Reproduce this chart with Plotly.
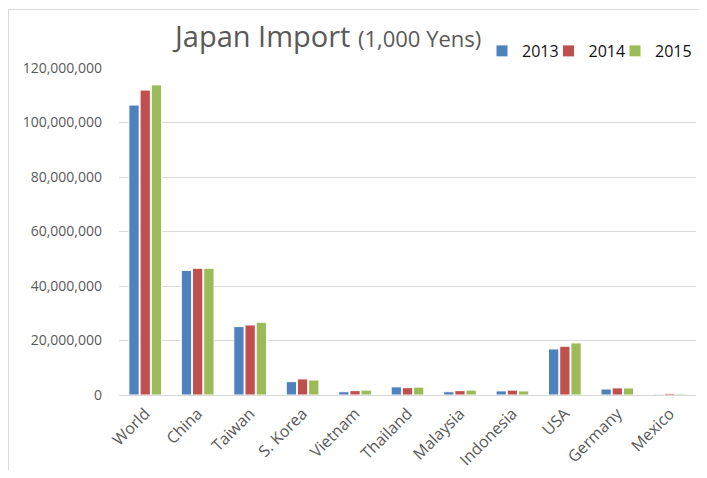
import plotly.graph_objects as go

categories = ["World", "China", "Taiwan", "S. Korea", "Vietnam", "Thailand",
              "Malaysia", "Indonesia", "USA", "Germany", "Mexico"]
years = ["2013", "2014", "2015"]
v2013 = [106400000, 45700000, 25100000, 4900000, 1200000, 3000000, 1200000, 1500000, 16900000, 2200000, 300000]
v2014 = [111900000, 46500000, 25700000, 5900000, 1600000, 2700000, 1600000, 1800000, 17900000, 2600000, 600000]
v2015 = [113800000, 46500000, 26700000, 5500000, 1800000, 2900000, 1800000, 1500000, 19100000, 2600000, 400000]
colors = ["#4F81BD", "#C0504D", "#9BBB59"]
tickvals = [0, 20000000, 40000000, 60000000, 80000000, 100000000, 120000000]
ticktext = ["0", "20,000,000", "40,000,000", "60,000,000", "80,000,000", "100,000,000", "120,000,000"]

FONT = "Open Sans"
GRAY = "#595959"

# page has an 8px body margin; figure sized to fit the window
W, H = 691, 462
L, T = 111, 60
PR, PB = 688, 387          # plot right / bottom in figure pixels
R, B = W - PR, H - PB
pw, ph = PR - L, PB - T

def px_x(x):
    return (x - L) / pw

def px_y(y):
    return (PB - y) / ph

legend_names = ["legend", "legend2", "legend3"]
legend_left = [474, 540.5, 607]

fig = go.Figure()
for name, vals, c, lg in zip(years, [v2013, v2014, v2015], colors, legend_names):
    fig.add_trace(go.Bar(x=categories, y=vals, name=name, legend=lg, showlegend=True,
                         marker=dict(color=c, line=dict(color="white", width=1))))

legend_layout = {}
for lg, lx in zip(legend_names, legend_left):
    legend_layout[lg] = dict(orientation="h", x=px_x(lx), xanchor="left",
                             y=px_y(43), yanchor="middle",
                             font=dict(family=FONT, size=16, color="#111111"),
                             itemwidth=30, bgcolor="rgba(0,0,0,0)", visible=True)

fig.update_layout(
    width=W, height=H, showlegend=True,
    margin=dict(l=L, r=R, t=T, b=B, autoexpand=False),
    paper_bgcolor="white", plot_bgcolor="white",
    barmode="group", bargap=0.36, bargroupgap=0.08,
    font=dict(family=FONT, color=GRAY),
    title=dict(text="Japan Import <span style='font-size:22px'>(1,000 Yens)</span>",
               font=dict(family=FONT, size=29, color=GRAY),
               x=167 / W, xanchor="left", xref="container",
               y=1 - 28.5 / H, yanchor="middle", yref="container"),
    xaxis=dict(tickangle=-45, tickfont=dict(family=FONT, size=16, color=GRAY),
               showline=True, linecolor="#d9d9d9", linewidth=1, ticks="",
               ticklabelstandoff=2),
    yaxis=dict(range=[0, 120000000], tickvals=tickvals, ticktext=ticktext,
               tickfont=dict(family=FONT, size=14, color=GRAY),
               showgrid=True, gridcolor="#d9d9d9", gridwidth=1,
               zeroline=False, ticks="", ticklabelstandoff=16),
    **legend_layout,
)

# chart frame (left and top edges)
x_left = px_x(0.5)
y_top = px_y(1.5)
fig.add_shape(type="line", xref="paper", yref="paper", x0=x_left, x1=px_x(W + 5),
              y0=y_top, y1=y_top, line=dict(color="#d9d9d9", width=1))
fig.add_shape(type="line", xref="paper", yref="paper", x0=x_left, x1=x_left,
              y0=y_top, y1=px_y(H + 5), line=dict(color="#d9d9d9", width=1))

fig.write_html("out.html")
